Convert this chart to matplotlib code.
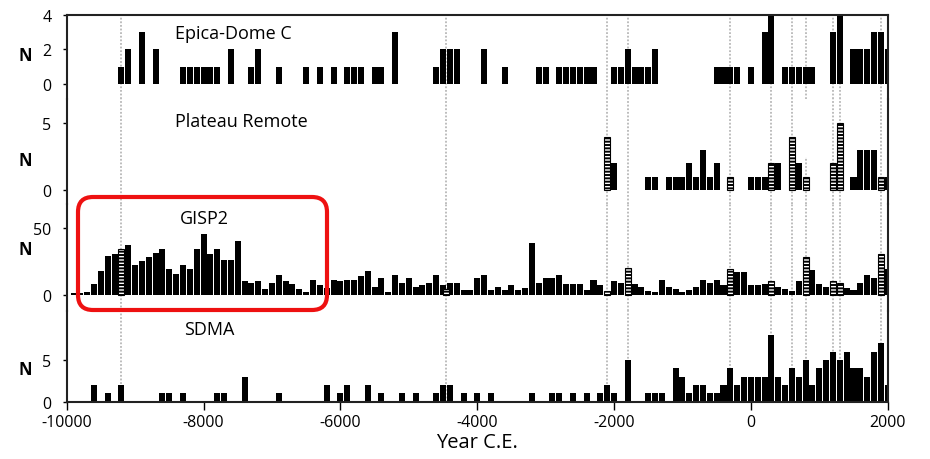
import matplotlib
matplotlib.use('Agg')
import matplotlib.pyplot as plt
from matplotlib.patches import FancyBboxPatch
from matplotlib.transforms import IdentityTransform

plt.rcParams['font.family'] = ['Open Sans', 'DejaVu Sans']
plt.rcParams['axes.unicode_minus'] = False
plt.rcParams['hatch.linewidth'] = 1.4

# ---- data (counts per century) ----
event_years = [-9200, -4450, -2100, -1800, -300, 300, 600, 800, 1200, 1300, 1900]

epica_years = [-9200, -9100, -8900, -8700, -8300, -8200, -8100, -8000, -7900, -7800,
               -7600, -7300, -7200, -6900, -6500, -6300, -6100, -5900, -5800, -5700,
               -5500, -5400, -5200, -4600, -4500, -4400, -4300, -3900, -3600, -3100,
               -3000, -2800, -2700, -2600, -2500, -2400, -2300, -2000, -1900, -1800,
               -1700, -1600, -1500, -1400, -500, -400, -300, -200, 0, 200,
               300, 500, 600, 700, 800, 900, 1200, 1300, 1500, 1600,
               1700, 1800, 1900, 2000]
epica_n = [1, 2, 3, 2, 1, 1, 1, 1, 1, 1,
           2, 1, 2, 1, 1, 1, 1, 1, 1, 1,
           1, 1, 3, 1, 2, 2, 2, 2, 1, 1,
           1, 1, 1, 1, 1, 1, 1, 1, 1, 2,
           1, 1, 1, 2, 1, 1, 1, 1, 1, 3,
           4, 1, 1, 1, 1, 1, 3, 4, 2, 2,
           2, 3, 3, 2]

plateau_years = [-2000, -1500, -1400, -1200, -1100, -1000, -900, -800, -700, -600,
                 -500, 0, 100, 200, 400, 700, 1500, 1600, 1700, 1800, 2000]
plateau_n = [2, 1, 1, 1, 1, 1, 2, 1, 3, 1,
             2, 1, 1, 1, 2, 2, 1, 3, 3, 3, 1]
plateau_hatch_years = [-2100, -300, 300, 600, 800, 1200, 1300, 1900]
plateau_hatch_n = [4, 1, 2, 4, 1, 2, 5, 1]

gisp2_years = [-9900, -9800, -9700, -9600, -9500, -9400, -9300, -9100, -9000, -8900,
               -8800, -8700, -8600, -8500, -8400, -8300, -8200, -8100, -8000, -7900,
               -7800, -7700, -7600, -7500, -7400, -7300, -7200, -7100, -7000, -6900,
               -6800, -6700, -6600, -6500, -6400, -6300, -6200, -6100, -6000, -5900,
               -5800, -5700, -5600, -5500, -5400, -5300, -5200, -5100, -5000, -4900,
               -4800, -4700, -4600, -4500, -4400, -4300, -4200, -4100, -4000, -3900,
               -3800, -3700, -3600, -3500, -3400, -3300, -3200, -3100, -3000, -2900,
               -2800, -2700, -2600, -2500, -2400, -2300, -2200, -2000, -1900, -1700,
               -1600, -1500, -1400, -1300, -1200, -1100, -1000, -900, -800, -700,
               -600, -500, -400, -200, -100, 0, 100, 200, 400, 500,
               600, 700, 900, 1000, 1100, 1400, 1500, 1600, 1700, 1800,
               2000]
gisp2_n = [1.5, 1.5, 2, 8, 18, 29, 30.5, 37.5, 22, 25,
           28, 31, 34, 19, 15.5, 22, 19, 34, 45.5, 30.5,
           34, 26, 26, 40, 10.5, 9, 10.5, 4, 9, 15,
           10.5, 8, 4, 2, 11, 7, 5, 11, 10.5, 11,
           11, 14, 18, 5.5, 12.5, 2, 15, 9, 12.5, 5.5,
           7.5, 9, 15, 7, 9, 9, 3.5, 3.5, 12.5, 15,
           3.5, 5.5, 3.5, 7, 3.5, 5, 38.5, 9, 12.5, 12.5,
           15, 8, 8, 8, 3.5, 11, 7, 10.5, 9, 8,
           6, 2.5, 2, 11, 6, 4, 2, 3.5, 6, 11,
           9, 11, 7, 17, 17, 7, 7, 8, 6, 4,
           2.5, 10, 18.5, 8, 6, 5, 3.5, 9, 15, 12.5,
           19]
gisp2_hatch_years = [-9200, -4450, -2100, -1800, -300, 300, 800, 1200, 1300, 1900]
gisp2_hatch_n = [34, 4, 2.5, 20, 19, 10.5, 28, 10, 9, 30.5]

sdma_years = [-9600, -9400, -9200, -8600, -8500, -8300, -7800, -7700, -7400, -6900,
              -6200, -6000, -5900, -5600, -5400, -5100, -4900, -4600, -4500, -4400,
              -4200, -4000, -3800, -3200, -2900, -2800, -2600, -2400, -2200, -2100,
              -2000, -1800, -1500, -1400, -1300, -1100, -1000, -900, -800, -700,
              -600, -500, -400, -300, -200, -100, 0, 100, 200, 300,
              400, 500, 600, 700, 800, 900, 1000, 1100, 1200, 1300,
              1400, 1500, 1600, 1700, 1800, 1900, 2000]
sdma_n = [2, 1, 2, 1, 1, 1, 1, 1, 3, 1,
          2, 1, 2, 2, 1, 1, 1, 1, 2, 2,
          1, 1, 1, 1, 1, 1, 1, 1, 1, 2,
          1, 5, 1, 1, 1, 4, 3, 1, 2, 2,
          1, 1, 2, 4, 2, 3, 3, 3, 3, 8,
          3, 2, 4, 3, 5, 2, 4, 5, 6, 5,
          6, 4, 4, 3, 6, 7, 2]

# ---- layout (pixel based) ----
W, H = 930, 460
LEFT, RIGHT = 66.7, 887.7
fig = plt.figure(figsize=(W / 100, H / 100), dpi=100)


def add_panel(top, bottom):
    return fig.add_axes([LEFT / W, 1 - bottom / H, (RIGHT - LEFT) / W, (bottom - top) / H])


panels = [
    # top px, bottom px, ylim, yticks, title, title xy, N y-fraction
    (16, 100, (-0.87, 4), [0, 2, 4], 'Epica-Dome C', (-7570, 2.95), 0.52),
    (100, 205, (-1.05, 6.84), [0, 5], 'Plateau Remote', (-7440, 5.2), 0.42),
    (205, 312, (-12.2, 68), [0, 50], 'GISP2', (-7990, 57.5), 0.58),
    (312, 402.7, (0, 10.9), [0, 5], 'SDMA', (-7920, 8.7), 0.36),
]
series = [
    (epica_years, epica_n, [], []),
    (plateau_years, plateau_n, plateau_hatch_years, plateau_hatch_n),
    (gisp2_years, gisp2_n, gisp2_hatch_years, gisp2_hatch_n),
    (sdma_years, sdma_n, [], []),
]

axes = []
for i, (p, s) in enumerate(zip(panels, series)):
    top, bottom, ylim, yticks, title, txy, ny = p
    years, n, hy, hn = s
    ax = add_panel(top, bottom)
    axes.append(ax)
    for ev in event_years:
        if i == 1 and ev == 800:
            ax.axvline(ev, ymax=0.45, color='#b8b8b8', ls=(0, (1, 1)), lw=1.3, zorder=0)
        else:
            ax.axvline(ev, color='#b8b8b8', ls=(0, (1, 1)), lw=1.3, zorder=0)
    ax.bar(years, n, width=88, color='black', zorder=2)
    if hy:
        ax.bar(hy, hn, width=88, facecolor='white', edgecolor='black',
               hatch='-----', lw=0.8, zorder=3)
    ax.set_xlim(-10000, 2000)
    ax.set_ylim(*ylim)
    ax.set_yticks(yticks)
    ax.tick_params(axis='y', direction='out', length=3, width=1, pad=8, labelsize=11.5)
    ax.text(txy[0], txy[1], title, ha='center', va='center', fontsize=13)
    ax.set_ylabel('N', rotation=0, fontsize=12, fontweight='bold', va='center', ha='center')
    ax.yaxis.set_label_coords(-0.051, ny)
    ax.patch.set_visible(False)
    for side in ['left', 'right', 'top', 'bottom']:
        ax.spines[side].set_color('#222222')
        ax.spines[side].set_linewidth(1.5)
    ax.spines['top'].set_visible(i == 0)
    ax.spines['bottom'].set_visible(i == 3)
    if i < 3:
        ax.tick_params(axis='x', bottom=False, labelbottom=False)

ax = axes[-1]
ax.set_xticks([-10000, -8000, -6000, -4000, -2000, 0, 2000])
ax.tick_params(axis='x', direction='out', length=6, width=1, labelsize=11.5, pad=3)
ax.set_xlabel('Year C.E.', fontsize=14.5, labelpad=1)

# red highlight box around the early GISP2 record
box = FancyBboxPatch((78, H - 311), 249, 113,
                     boxstyle='round,pad=0,rounding_size=15',
                     transform=IdentityTransform(), fill=False,
                     edgecolor='#ee1111', linewidth=3)
fig.add_artist(box)

fig.savefig('out.png', dpi=100)
